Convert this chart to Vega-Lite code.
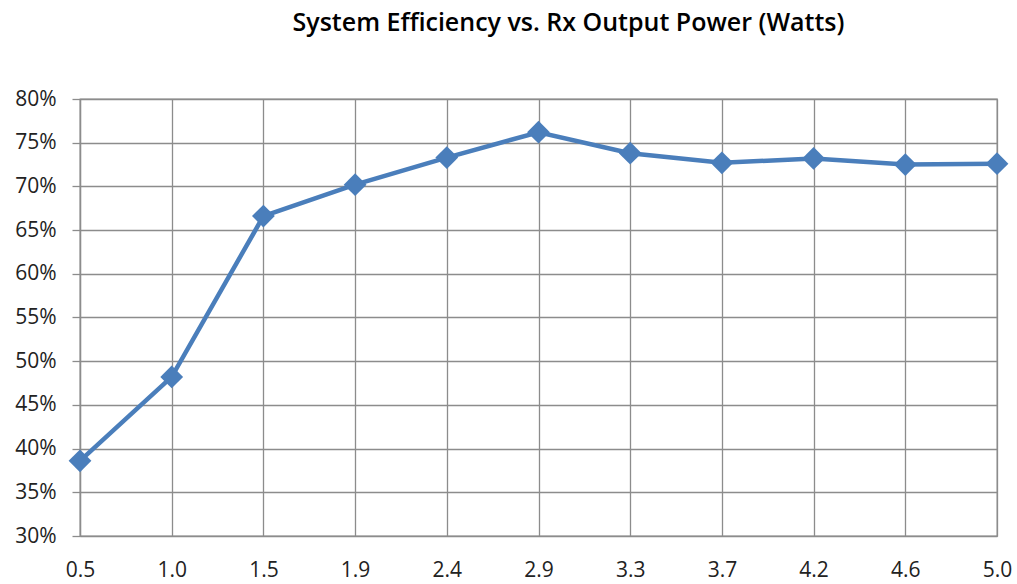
{
  "$schema": "https://vega.github.io/schema/vega-lite/v6.json",
  "autosize": {"type": "none"},
  "width": 917,
  "height": 437,
  "padding": {"left": 80, "top": 99, "right": 20, "bottom": 48},
  "background": "white",
  "title": {
    "text": "System Efficiency vs. Rx Output Power (Watts)",
    "font": "Open Sans",
    "fontSize": 25,
    "fontWeight": 600,
    "color": "#000000",
    "anchor": "middle",
    "dx": 30,
    "offset": 40,
    "baseline": "middle"
  },
  "data": {
    "values": [
      {"power": "0.5", "eff": 0.386},
      {"power": "1.0", "eff": 0.482},
      {"power": "1.5", "eff": 0.666},
      {"power": "1.9", "eff": 0.702},
      {"power": "2.4", "eff": 0.733},
      {"power": "2.9", "eff": 0.762},
      {"power": "3.3", "eff": 0.738},
      {"power": "3.7", "eff": 0.727},
      {"power": "4.2", "eff": 0.732},
      {"power": "4.6", "eff": 0.725},
      {"power": "5.0", "eff": 0.726}
    ]
  },
  "encoding": {
    "x": {
      "field": "power",
      "type": "ordinal",
      "sort": null,
      "scale": {"type": "point", "padding": 0},
      "axis": {
        "title": null,
        "labelAngle": 0,
        "labelFont": "Open Sans",
        "labelFontSize": 21,
        "labelColor": "#222222",
        "labelPadding": 23,
        "ticks": false,
        "domain": false,
        "grid": true,
        "gridColor": "#8c8c8c",
        "gridWidth": 1.3
      }
    },
    "y": {
      "field": "eff",
      "type": "quantitative",
      "scale": {"domain": [0.3, 0.8], "nice": false, "zero": false},
      "axis": {
        "title": null,
        "format": ".0%",
        "values": [0.3, 0.35, 0.4, 0.45, 0.5, 0.55, 0.6, 0.65, 0.7, 0.75, 0.8],
        "labelFont": "Open Sans",
        "labelFontSize": 21,
        "labelColor": "#222222",
        "labelPadding": 16,
        "tickSize": 8,
        "tickColor": "#8c8c8c",
        "tickWidth": 1.3,
        "domainColor": "#8c8c8c",
        "domainWidth": 1.3,
        "grid": true,
        "gridColor": "#8c8c8c",
        "gridWidth": 1.3
      }
    }
  },
  "layer": [
    {"mark": {"type": "line", "color": "#4a7ebb", "strokeWidth": 4.5}},
    {"mark": {"type": "point", "shape": "diamond", "filled": true, "color": "#4a7ebb", "opacity": 1, "size": 520}}
  ],
  "config": {"view": {"stroke": "#8c8c8c", "strokeWidth": 1.3}}
}
